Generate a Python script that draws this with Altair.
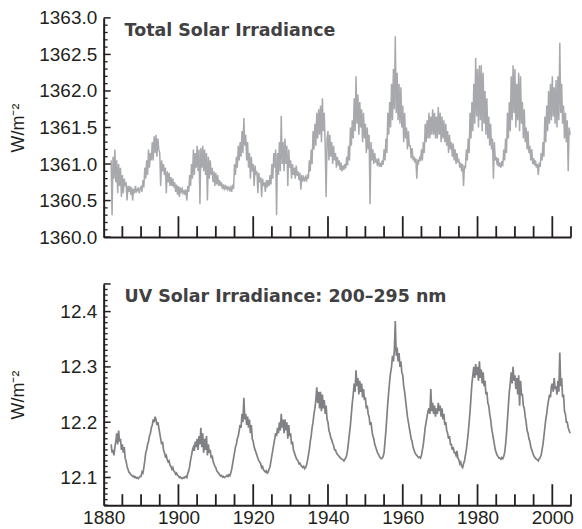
import altair as alt
import pandas as pd

# ---------------- data (quarterly values) ----------------
start_year = 1882.0

tsi = [
    1361.05, 1360.30, 1361.10, 1360.80,  # 1882
    1361.20, 1360.75, 1361.05, 1360.60,
    1361.00, 1360.70, 1360.95, 1360.55,
    1360.85, 1360.60, 1360.80, 1360.70,
    1360.75, 1360.50, 1360.70, 1360.62,
    1360.70, 1360.58, 1360.68, 1360.50,
    1360.66, 1360.60, 1360.70, 1360.62,
    1360.64, 1360.68, 1360.60, 1360.66,
    1360.70, 1360.62, 1360.78, 1360.68,  # 1890
    1360.95, 1360.80, 1361.05, 1360.85,
    1361.20, 1360.95, 1361.15, 1361.05,
    1361.30, 1361.05, 1361.38, 1361.15,
    1361.40, 1361.10, 1361.35, 1361.20,
    1361.15, 1360.70, 1361.05, 1360.90,
    1361.00, 1360.85, 1360.95, 1360.60,
    1360.90, 1360.75, 1360.88, 1360.70,
    1360.82, 1360.70, 1360.80, 1360.68,
    1360.75, 1360.62, 1360.72, 1360.58,
    1360.70, 1360.55, 1360.68, 1360.62,  # 1900
    1360.66, 1360.60, 1360.63, 1360.58,
    1360.65, 1360.50, 1360.70, 1360.62,
    1360.85, 1360.70, 1361.00, 1360.80,
    1361.20, 1360.85, 1361.15, 1360.95,
    1361.25, 1360.90, 1361.20, 1360.45,
    1361.22, 1360.95, 1361.25, 1360.90,
    1361.20, 1360.85, 1361.15, 1360.50,
    1361.10, 1360.80, 1361.05, 1360.85,
    1360.95, 1360.75, 1360.90, 1360.70,
    1360.88, 1360.72, 1360.85, 1360.70,  # 1910
    1360.78, 1360.70, 1360.75, 1360.66,
    1360.72, 1360.66, 1360.70, 1360.65,
    1360.70, 1360.65, 1360.68, 1360.64,
    1360.68, 1360.62, 1360.72, 1360.66,
    1361.00, 1360.85, 1361.10, 1360.95,
    1361.25, 1361.05, 1361.30, 1361.10,
    1361.45, 1361.15, 1361.63, 1361.25,
    1361.40, 1361.05, 1361.30, 1360.95,
    1361.15, 1360.80, 1361.10, 1360.90,
    1361.00, 1360.70, 1360.98, 1360.85,  # 1920
    1360.90, 1360.60, 1360.88, 1360.75,
    1360.82, 1360.55, 1360.80, 1360.70,
    1360.75, 1360.62, 1360.78, 1360.68,
    1360.78, 1360.70, 1360.85, 1360.72,
    1361.00, 1360.80, 1361.15, 1360.95,
    1361.20, 1360.30, 1361.15, 1360.85,
    1361.30, 1360.90, 1361.66, 1361.00,
    1361.30, 1360.90, 1361.35, 1361.00,
    1361.25, 1360.70, 1361.20, 1360.95,
    1361.05, 1360.80, 1361.00, 1360.85,  # 1930
    1360.95, 1360.80, 1360.98, 1360.84,
    1360.90, 1360.78, 1360.88, 1360.65,
    1360.85, 1360.76, 1360.82, 1360.78,
    1360.82, 1360.76, 1360.86, 1360.80,
    1361.05, 1360.90, 1361.20, 1361.00,
    1361.45, 1361.20, 1361.55, 1361.25,
    1361.70, 1361.35, 1361.75, 1361.40,
    1361.80, 1361.30, 1361.90, 1361.45,
    1361.70, 1361.25, 1360.55, 1361.35,
    1361.45, 1361.05, 1361.40, 1361.10,  # 1940
    1361.30, 1361.00, 1361.25, 1361.05,
    1361.15, 1360.95, 1361.10, 1360.98,
    1361.05, 1360.92, 1361.02, 1360.90,
    1360.98, 1360.92, 1361.00, 1360.94,
    1361.10, 1360.98, 1361.25, 1361.05,
    1361.50, 1361.25, 1361.60, 1361.35,
    1361.90, 1361.45, 1362.20, 1361.55,
    1361.95, 1361.40, 1361.85, 1361.50,
    1361.75, 1361.30, 1361.70, 1361.35,
    1361.55, 1361.15, 1361.50, 1361.20,  # 1950
    1361.40, 1360.45, 1361.30, 1361.05,
    1361.20, 1361.00, 1361.15, 1361.02,
    1361.05, 1360.97, 1361.08, 1360.98,
    1361.00, 1360.96, 1361.05, 1360.99,
    1361.20, 1361.05, 1361.35, 1361.15,
    1361.70, 1361.40, 1361.85, 1361.50,
    1362.10, 1361.60, 1362.30, 1361.75,
    1362.75, 1361.70, 1362.25, 1361.60,
    1362.10, 1361.55, 1362.05, 1361.50,
    1361.80, 1361.30, 1361.70, 1361.35,  # 1960
    1361.50, 1361.20, 1361.45, 1361.25,
    1361.25, 1361.08, 1361.22, 1361.05,
    1361.10, 1361.02, 1361.08, 1360.80,
    1361.06, 1361.02, 1361.08, 1361.04,
    1361.20, 1361.05, 1361.30, 1361.15,
    1361.55, 1361.30, 1361.60, 1361.35,
    1361.70, 1361.35, 1361.65, 1361.40,
    1361.75, 1361.40, 1361.70, 1361.35,
    1361.65, 1361.35, 1361.78, 1361.40,
    1361.70, 1361.30, 1361.65, 1361.35,  # 1970
    1361.60, 1361.30, 1361.55, 1361.25,
    1361.45, 1361.15, 1361.40, 1361.20,
    1361.30, 1361.10, 1361.28, 1361.05,
    1361.20, 1361.00, 1361.15, 1361.02,
    1361.05, 1360.95, 1361.02, 1360.90,
    1361.00, 1360.70, 1360.98, 1360.94,
    1361.20, 1361.05, 1361.35, 1361.15,
    1361.70, 1361.35, 1361.85, 1361.45,
    1362.10, 1361.55, 1362.45, 1361.65,
    1362.30, 1361.50, 1362.35, 1361.60,  # 1980
    1362.35, 1361.45, 1362.25, 1361.55,
    1362.00, 1361.40, 1361.90, 1361.35,
    1361.65, 1361.25, 1361.55, 1361.20,
    1361.35, 1360.80, 1361.30, 1361.05,
    1361.10, 1360.98, 1361.08, 1360.96,
    1361.02, 1360.95, 1361.04, 1360.97,
    1361.20, 1361.05, 1361.35, 1361.15,
    1361.70, 1361.35, 1361.85, 1361.45,
    1362.20, 1361.60, 1362.35, 1361.70,
    1362.30, 1361.50, 1362.10, 1361.60,  # 1990
    1362.25, 1361.45, 1362.20, 1361.55,
    1361.85, 1361.35, 1361.75, 1361.30,
    1361.50, 1361.20, 1361.45, 1361.15,
    1361.25, 1361.05, 1361.20, 1361.00,
    1361.08, 1360.98, 1361.05, 1360.95,
    1361.00, 1360.85, 1361.02, 1360.96,
    1361.15, 1361.05, 1361.30, 1361.10,
    1361.65, 1361.30, 1361.80, 1361.45,
    1362.00, 1361.55, 1362.10, 1361.60,
    1362.20, 1361.65, 1362.05, 1361.55,  # 2000
    1362.15, 1361.50, 1362.20, 1361.60,
    1362.66, 1361.70, 1362.10, 1361.55,
    1361.80, 1361.35, 1361.70, 1361.30,
    1361.60, 1360.90, 1361.50, 1361.40,
]

uv = [
    12.160, 12.145, 12.150, 12.140,  # 1882
    12.155, 12.165, 12.180, 12.160,
    12.185, 12.165, 12.170, 12.150,
    12.160, 12.145, 12.155, 12.135,
    12.130, 12.120, 12.115, 12.110,
    12.108, 12.105, 12.104, 12.102,
    12.103, 12.100, 12.101, 12.099,
    12.100, 12.098, 12.100, 12.102,
    12.102, 12.110, 12.108, 12.118,  # 1890
    12.130, 12.145, 12.150, 12.160,
    12.165, 12.175, 12.180, 12.190,
    12.195, 12.205, 12.200, 12.210,
    12.205, 12.195, 12.200, 12.190,
    12.180, 12.170, 12.160, 12.165,
    12.150, 12.145, 12.138, 12.140,
    12.132, 12.128, 12.130, 12.122,
    12.120, 12.115, 12.118, 12.112,
    12.110, 12.106, 12.108, 12.104,
    12.103, 12.100, 12.101, 12.099,  # 1900
    12.098, 12.100, 12.099, 12.101,
    12.102, 12.100, 12.108, 12.112,
    12.120, 12.132, 12.140, 12.150,
    12.155, 12.148, 12.165, 12.155,
    12.170, 12.150, 12.175, 12.160,
    12.190, 12.155, 12.180, 12.145,
    12.170, 12.150, 12.175, 12.140,
    12.160, 12.145, 12.150, 12.135,
    12.140, 12.130, 12.125, 12.120,
    12.118, 12.112, 12.110, 12.108,  # 1910
    12.105, 12.103, 12.104, 12.101,
    12.102, 12.100, 12.101, 12.102,
    12.104, 12.102, 12.105, 12.103,
    12.108, 12.115, 12.125, 12.135,
    12.145, 12.155, 12.160, 12.170,
    12.175, 12.185, 12.195, 12.190,
    12.215, 12.200, 12.244, 12.205,
    12.215, 12.195, 12.210, 12.190,
    12.205, 12.180, 12.195, 12.170,
    12.165, 12.155, 12.150, 12.145,  # 1920
    12.140, 12.135, 12.130, 12.128,
    12.125, 12.118, 12.120, 12.114,
    12.112, 12.110, 12.112, 12.108,
    12.110, 12.115, 12.120, 12.130,
    12.140, 12.150, 12.160, 12.170,
    12.180, 12.175, 12.190, 12.180,
    12.200, 12.185, 12.215, 12.190,
    12.205, 12.180, 12.205, 12.185,
    12.200, 12.170, 12.195, 12.175,
    12.180, 12.160, 12.165, 12.150,  # 1930
    12.145, 12.140, 12.135, 12.132,
    12.130, 12.125, 12.126, 12.122,
    12.120, 12.118, 12.120, 12.116,
    12.118, 12.122, 12.130, 12.140,
    12.150, 12.165, 12.175, 12.190,
    12.200, 12.215, 12.225, 12.240,
    12.263, 12.235, 12.255, 12.225,
    12.255, 12.220, 12.250, 12.225,
    12.240, 12.215, 12.230, 12.205,
    12.200, 12.185, 12.180, 12.172,  # 1940
    12.168, 12.162, 12.158, 12.150,
    12.150, 12.145, 12.142, 12.140,
    12.138, 12.136, 12.134, 12.133,
    12.132, 12.130, 12.133, 12.135,
    12.140, 12.150, 12.165, 12.180,
    12.195, 12.215, 12.235, 12.250,
    12.270, 12.255, 12.294, 12.265,
    12.280, 12.250, 12.275, 12.255,
    12.270, 12.245, 12.260, 12.240,
    12.245, 12.225, 12.230, 12.215,  # 1950
    12.210, 12.195, 12.200, 12.185,
    12.175, 12.170, 12.160, 12.155,
    12.150, 12.145, 12.142, 12.138,
    12.136, 12.134, 12.135, 12.138,
    12.145, 12.165, 12.185, 12.210,
    12.235, 12.255, 12.275, 12.290,
    12.300, 12.320, 12.310, 12.330,
    12.383, 12.320, 12.335, 12.310,
    12.325, 12.300, 12.310, 12.290,
    12.285, 12.265, 12.255, 12.240,  # 1960
    12.225, 12.210, 12.200, 12.190,
    12.180, 12.170, 12.165, 12.155,
    12.150, 12.145, 12.142, 12.140,
    12.138, 12.136, 12.137, 12.135,
    12.140, 12.150, 12.160, 12.175,
    12.190, 12.200, 12.210, 12.220,
    12.225, 12.215, 12.260, 12.220,
    12.235, 12.215, 12.230, 12.210,
    12.225, 12.215, 12.235, 12.220,
    12.230, 12.210, 12.225, 12.205,  # 1970
    12.215, 12.195, 12.200, 12.185,
    12.180, 12.170, 12.175, 12.160,
    12.160, 12.150, 12.155, 12.145,
    12.145, 12.140, 12.148, 12.135,
    12.132, 12.125, 12.128, 12.120,
    12.118, 12.125, 12.130, 12.140,
    12.150, 12.165, 12.180, 12.200,
    12.220, 12.245, 12.270, 12.285,
    12.300, 12.280, 12.305, 12.285,
    12.300, 12.275, 12.310, 12.280,  # 1980
    12.295, 12.270, 12.290, 12.265,
    12.275, 12.250, 12.255, 12.235,
    12.230, 12.215, 12.205, 12.190,
    12.180, 12.170, 12.160, 12.150,
    12.145, 12.140, 12.138, 12.135,
    12.135, 12.133, 12.136, 12.134,
    12.138, 12.145, 12.160, 12.180,
    12.205, 12.230, 12.255, 12.270,
    12.290, 12.270, 12.300, 12.275,
    12.285, 12.260, 12.280, 12.250,  # 1990
    12.285, 12.230, 12.275, 12.250,
    12.250, 12.230, 12.225, 12.210,
    12.200, 12.185, 12.180, 12.170,
    12.165, 12.155, 12.150, 12.145,
    12.140, 12.137, 12.135, 12.133,
    12.132, 12.130, 12.134, 12.136,
    12.140, 12.150, 12.160, 12.175,
    12.190, 12.205, 12.215, 12.230,
    12.240, 12.250, 12.245, 12.265,
    12.270, 12.255, 12.280, 12.260,  # 2000
    12.265, 12.250, 12.275, 12.255,
    12.326, 12.265, 12.280, 12.245,
    12.250, 12.220, 12.215, 12.200,
    12.200, 12.190, 12.185, 12.180,
]

x_labels = [1880, 1900, 1920, 1940, 1960, 1980, 2000]
x_major_ticks = [1900, 1920, 1940, 1960, 1980, 2000]
x_minor_ticks = [1885, 1890, 1895, 1905, 1910, 1915, 1925, 1930, 1935,
                 1945, 1950, 1955, 1965, 1970, 1975, 1985, 1990, 1995, 2005]

tsi_labels = [1360.0, 1360.5, 1361.0, 1361.5, 1362.0, 1362.5, 1363.0]
tsi_minor = [round(1360.0 + 0.1 * i, 1) for i in range(31)]
uv_labels = [12.1, 12.2, 12.3, 12.4]
uv_minor = [round(12.05 + 0.01 * i, 2) for i in range(41)]

# ---------------- styling ----------------
W = 469
H_TOP = 220
H_BOT = 222
INK = "#231f20"
FONT = "Liberation Sans"
TITLE_FONT = "DejaVu Sans"

df_tsi = pd.DataFrame({"year": [start_year + 0.25 * i for i in range(len(tsi))], "value": tsi})
df_uv = pd.DataFrame({"year": [start_year + 0.25 * i for i in range(len(uv))], "value": uv})


def panel(df, domain, label_vals, minor_vals, title, color, stroke_w, height, show_x_labels):
    xscale = alt.Scale(domain=[1880, 2005], nice=False, zero=False)
    yscale = alt.Scale(domain=domain, nice=False, zero=False)
    if show_x_labels:
        xaxis = alt.Axis(values=x_labels, format="d", ticks=False, grid=False, title=None,
                         domainColor=INK, domainWidth=2, labelFont=FONT, labelFontSize=19,
                         labelColor=INK, labelPadding=3, labelFlush=False)
    else:
        xaxis = alt.Axis(labels=False, ticks=False, grid=False, title=None,
                         domainColor=INK, domainWidth=2)
    yaxis = alt.Axis(values=label_vals, format=".1f", ticks=False, grid=False,
                     domainColor=INK, domainWidth=2, labelFont=FONT, labelFontSize=19,
                     labelColor=INK, labelPadding=7, title="W/m⁻²",
                     titleFont=FONT, titleFontSize=18, titleFontWeight="normal",
                     titleColor=INK, titleX=-85, titleY=height / 2,
                     titleAlign="center", titleBaseline="middle")
    X = lambda: alt.X("year:Q", scale=xscale, axis=xaxis)
    Y = lambda: alt.Y("value:Q", scale=yscale, axis=yaxis)

    line = alt.Chart(df).mark_line(color=color, strokeWidth=stroke_w).encode(x=X(), y=Y())
    ymaj = [v for v in minor_vals if v in set(label_vals) or v == domain[1]]
    ymin = [v for v in minor_vals if v not in ymaj]
    ytick_major = alt.Chart(pd.DataFrame({"value": ymaj})).mark_rule(
        color=INK, strokeWidth=1.5).encode(y=Y(), x=alt.value(0), x2=alt.value(7))
    ytick_minor = alt.Chart(pd.DataFrame({"value": ymin})).mark_rule(
        color=INK, strokeWidth=1.3).encode(y=Y(), x=alt.value(0), x2=alt.value(4))
    xtick_major = alt.Chart(pd.DataFrame({"year": x_major_ticks})).mark_rule(
        color=INK, strokeWidth=1.8).encode(x=X(), y=alt.value(height), y2=alt.value(height - 21))
    xtick_minor = alt.Chart(pd.DataFrame({"year": x_minor_ticks})).mark_rule(
        color=INK, strokeWidth=1.8).encode(x=X(), y=alt.value(height), y2=alt.value(height - 11))
    ttl = alt.Chart(pd.DataFrame({"t": [title]})).mark_text(
        align="left", baseline="alphabetic", font=TITLE_FONT, fontSize=17.5,
        fontWeight="bold", color="#414042").encode(
        text="t:N", x=alt.value(21), y=alt.value(18))
    return alt.layer(line, ytick_major, ytick_minor, xtick_major, xtick_minor, ttl).properties(
        width=W, height=height)


top = panel(df_tsi, [1360.0, 1363.0], tsi_labels, tsi_minor, "Total Solar Irradiance",
            "#a7a9ac", 1.5, H_TOP, False)
bottom = panel(df_uv, [12.05, 12.45], uv_labels, uv_minor, "UV Solar Irradiance: 200–295 nm",
               "#808184", 1.7, H_BOT, True)

chart = alt.vconcat(top, bottom, spacing=36).properties(
    padding={"left": 2, "top": 0, "right": 0, "bottom": 0},
    background="white",
).configure_view(stroke=None)

chart.save("out.html", embed_options={"renderer": "svg", "actions": False})
